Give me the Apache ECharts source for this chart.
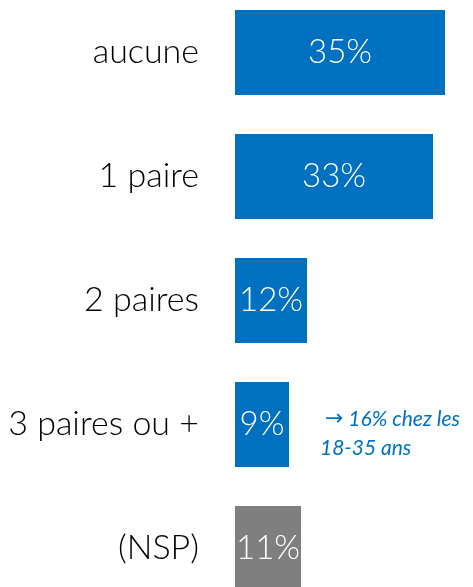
<!DOCTYPE html>
<html><head><meta charset="utf-8">
<script src="https://cdn.jsdelivr.net/npm/echarts@6/dist/echarts.min.js"></script>
<style>html,body{margin:0;padding:0;background:#fff}#c{width:473px;height:587px}</style>
</head><body><div id="c"></div>
<script>
const categories = ['aucune', '1 paire', '2 paires', '3 paires ou +', '(NSP)'];
const values = [35, 33, 12, 9, 11];
const colors = ['#0070C0', '#0070C0', '#0070C0', '#0070C0', '#7F7F7F'];
const noteArrow = '\u2192';
const noteLines = ['16% chez les', '18-35 ans'];

const chart = echarts.init(document.getElementById('c'));
chart.setOption({
  animation: false,
  grid: { left: 235, top: -9.5, height: 620, width: 240, outerBoundsMode: 'none', containLabel: false },
  xAxis: { type: 'value', min: 0, max: 40, show: false },
  yAxis: {
    type: 'category', data: categories, inverse: true,
    axisLine: { show: false }, axisTick: { show: false }, splitLine: { show: false },
    axisLabel: { margin: 36, fontFamily: 'Lato', fontWeight: 300, fontSize: 34, color: '#000' }
  },
  series: [{
    type: 'bar', barWidth: 85,
    data: values.map((v, i) => ({ value: v, itemStyle: { color: colors[i] } })),
    label: {
      show: true, position: 'inside', formatter: '{c}%',
      fontFamily: 'Lato', fontWeight: 300, fontSize: 33, color: '#fff'
    }
  }],
  graphic: [{
    type: 'text', left: 320, top: 405,
    style: {
      text: ' {a|' + noteArrow + '} ' + noteLines[0] + '\n' + noteLines[1],
      fontFamily: 'Lato', fontStyle: 'italic', fontSize: 21, fill: '#0070C0', lineHeight: 29,
      rich: { a: { fontFamily: 'DejaVu Sans', fontStyle: 'normal', fontSize: 22, fill: '#0070C0', lineHeight: 29 } }
    }
  }]
});
</script></body></html>
